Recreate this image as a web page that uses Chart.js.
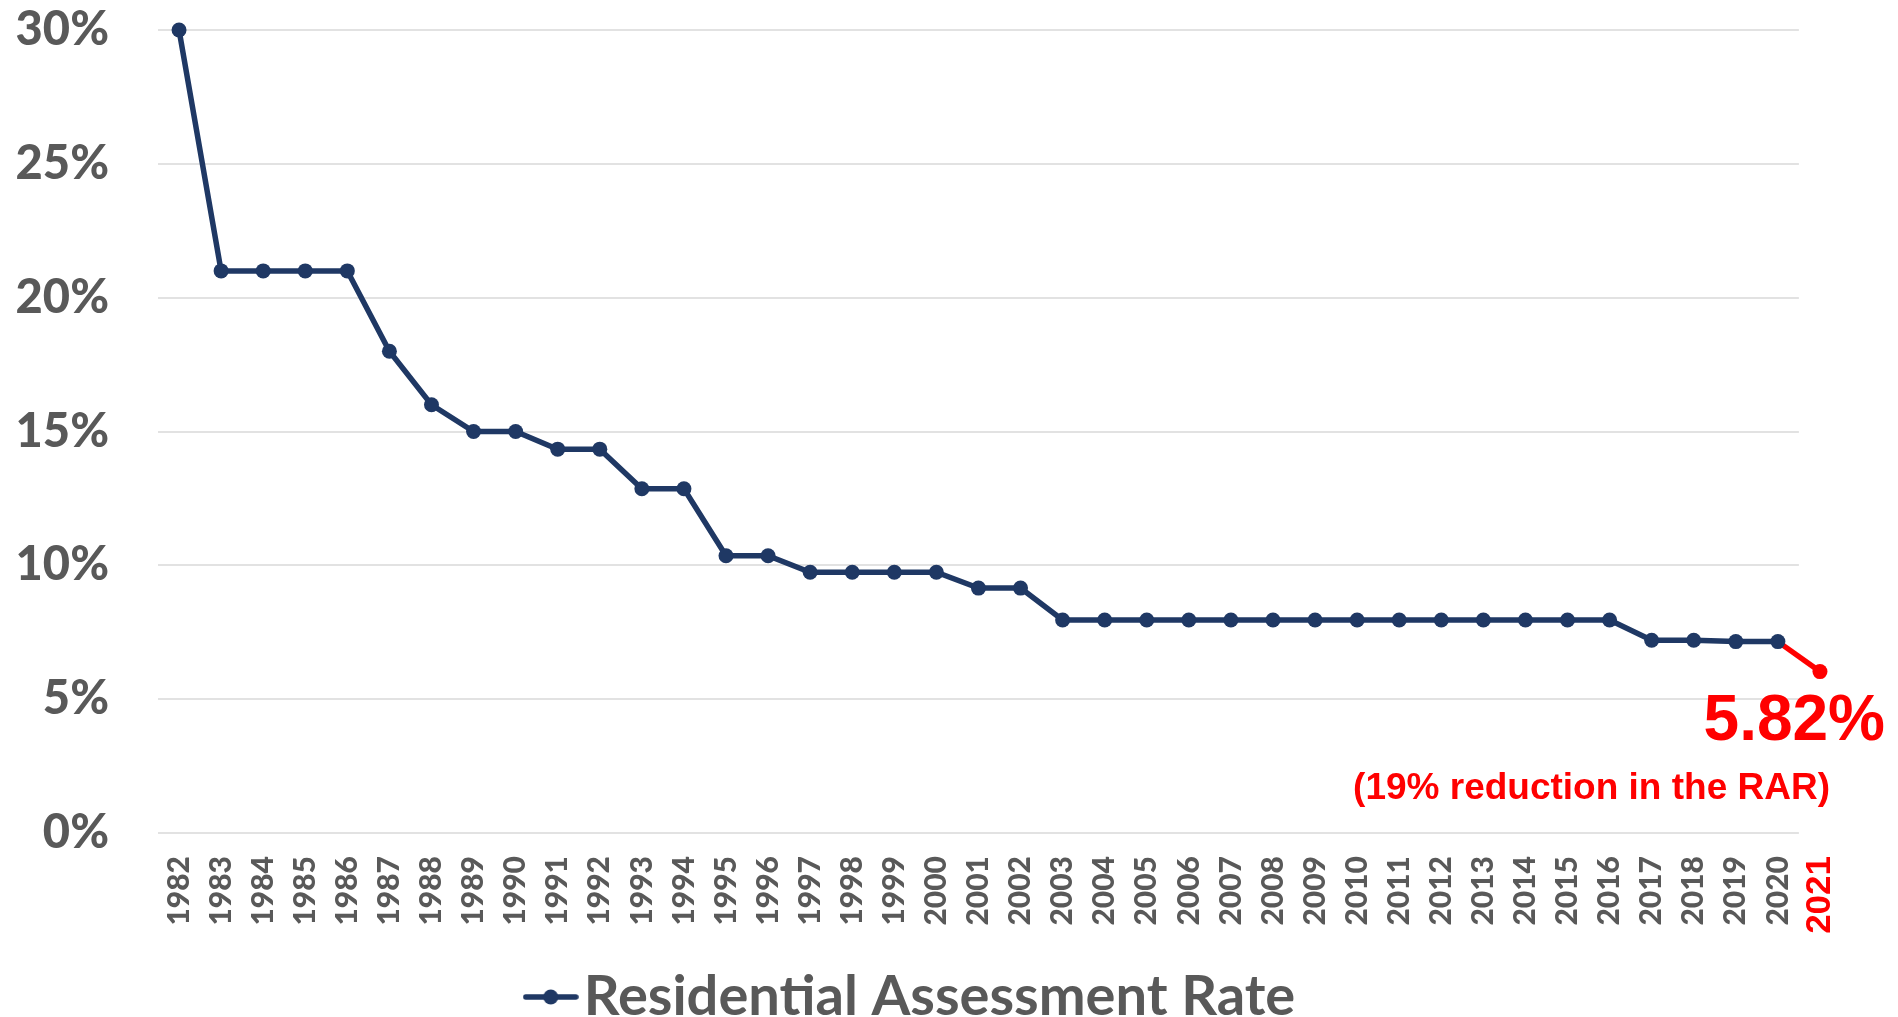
<!DOCTYPE html>
<html>
<head>
<meta charset="utf-8">
<title>Residential Assessment Rate</title>
<script src="https://cdn.jsdelivr.net/npm/chart.js@4.4.1/dist/chart.umd.min.js"></script>
<style>
  html, body { margin: 0; padding: 0; background: #fff; }
</style>
</head>
<body>
<canvas id="rarChart" width="1898" height="1017"></canvas>
<script>
// Residential Assessment Rate (RAR), 1982-2021
const years = [
  "1982", "1983", "1984", "1985", "1986", "1987", "1988", "1989", "1990", "1991",
  "1992", "1993", "1994", "1995", "1996", "1997", "1998", "1999", "2000", "2001",
  "2002", "2003", "2004", "2005", "2006", "2007", "2008", "2009", "2010", "2011",
  "2012", "2013", "2014", "2015", "2016", "2017", "2018", "2019", "2020", "2021"
];
const rates = [
  30, 21, 21, 21, 21, 18, 16, 15, 15, 14.34,
  14.34, 12.86, 12.86, 10.36, 10.36, 9.74, 9.74, 9.74, 9.74, 9.15,
  9.15, 7.96, 7.96, 7.96, 7.96, 7.96, 7.96, 7.96, 7.96, 7.96,
  7.96, 7.96, 7.96, 7.96, 7.96, 7.20, 7.20, 7.15, 7.15, 6.03
];
const yTickValues = [0, 5, 10, 15, 20, 25, 30];
const seriesLabel = "Residential Assessment Rate";
const noteValue = "5.82%";
const noteText = "(19% reduction in the RAR)";

const navy = "#1F3864";
const red = "#FF0000";
const grey = "#595959";
const gridColor = "#D9D9D9";
const lastIdx = rates.length - 1;

// legend marker: short line with a dot in the middle
function makeLegendIcon() {
  const c = document.createElement("canvas");
  c.width = 56;
  c.height = 20;
  const g = c.getContext("2d");
  g.strokeStyle = navy;
  g.lineWidth = 5.5;
  g.lineCap = "round";
  g.beginPath();
  g.moveTo(3, 10);
  g.lineTo(53, 10);
  g.stroke();
  g.fillStyle = navy;
  g.beginPath();
  g.arc(28, 10, 7.5, 0, Math.PI * 2);
  g.fill();
  return c;
}

// horizontal gridlines stop half a step after 2020, like the original
const partialGrid = {
  id: "partialGrid",
  beforeDatasetsDraw(chart) {
    const { ctx, chartArea, scales: { x, y } } = chart;
    const step = x.getPixelForValue(1) - x.getPixelForValue(0);
    const right = x.getPixelForValue(lastIdx - 1) + step / 2;
    ctx.save();
    ctx.strokeStyle = gridColor;
    ctx.lineWidth = 1.6;
    y.ticks.forEach(t => {
      const py = Math.round(y.getPixelForValue(t.value));
      ctx.beginPath();
      ctx.moveTo(chartArea.left, py);
      ctx.lineTo(right, py);
      ctx.stroke();
    });
    ctx.restore();
  }
};

// red note under the 2021 point
const rarNote = {
  id: "rarNote",
  afterDatasetsDraw(chart) {
    const { ctx, scales: { y } } = chart;
    const y5 = y.getPixelForValue(5);
    ctx.save();
    ctx.fillStyle = red;
    ctx.textAlign = "right";
    ctx.textBaseline = "alphabetic";
    ctx.font = 'bold 64px "Liberation Sans", Arial, sans-serif';
    ctx.fillText(noteValue, chart.width - 13, y5 + 41);
    ctx.font = 'bold 37px "Liberation Sans", Arial, sans-serif';
    ctx.fillText(noteText, chart.width - 68, y5 + 100);
    ctx.restore();
  }
};

const ctx = document.getElementById("rarChart").getContext("2d");
new Chart(ctx, {
  type: "line",
  data: {
    labels: years,
    datasets: [{
      label: seriesLabel,
      data: rates,
      borderColor: navy,
      borderWidth: 5.5,
      tension: 0,
      fill: false,
      clip: false,
      pointRadius: 7.5,
      pointHoverRadius: 7.5,
      pointBorderWidth: 0,
      pointBackgroundColor: rates.map((v, i) => i === lastIdx ? red : navy),
      segment: {
        borderColor: c => c.p1DataIndex === lastIdx ? red : navy
      }
    }]
  },
  options: {
    responsive: false,
    animation: false,
    layout: {
      padding: { top: 30, right: 57, left: 0, bottom: -18 }
    },
    scales: {
      x: {
        type: "category",
        offset: true,
        grid: { display: false, drawTicks: false },
        border: { display: false },
        ticks: {
          autoSkip: false,
          maxRotation: 90,
          minRotation: 90,
          padding: 23,
          color: c => c.index === lastIdx ? red : grey,
          font: c => c.index === lastIdx
            ? { family: '"Liberation Sans", Arial, sans-serif', size: 35, weight: "bold" }
            : { family: "Lato, sans-serif", size: 30, weight: "900" }
        },
        afterFit: s => { s.height = 130; }
      },
      y: {
        min: 0,
        max: 30,
        grid: { display: false, drawTicks: false },
        border: { display: false },
        afterBuildTicks: s => { s.ticks = yTickValues.map(v => ({ value: v })); },
        ticks: {
          padding: 49,
          color: grey,
          font: { family: "Lato, sans-serif", size: 47, weight: "900" },
          callback: v => v + "%"
        },
        afterFit: s => {
          s.width = 158;
          s.paddingTop = 0;
          s.paddingBottom = 0;
        }
      }
    },
    plugins: {
      legend: {
        position: "bottom",
        labels: {
          usePointStyle: true,
          pointStyle: makeLegendIcon(),
          pointStyleWidth: 10,
          padding: 6,
          color: grey,
          font: { family: "Lato, sans-serif", size: 56, weight: "bold" }
        }
      },
      tooltip: { enabled: false }
    }
  },
  plugins: [partialGrid, rarNote]
});
</script>
</body>
</html>
